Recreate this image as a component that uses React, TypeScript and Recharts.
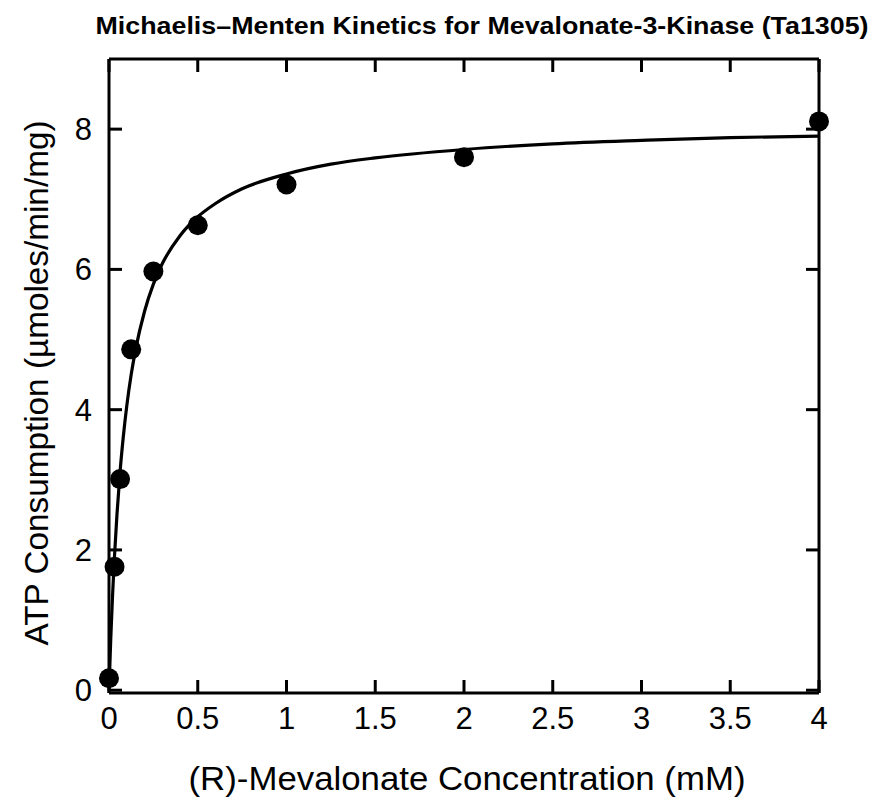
import React from 'react';
import { ComposedChart, Line, Scatter, XAxis, YAxis } from 'recharts';

// measured substrate concentrations (mM) and rates (µmol/min/mg)
const concentration = [0, 0.03125, 0.0625, 0.125, 0.25, 0.5, 1, 2, 4];
const rate = [0.17, 1.76, 3.01, 4.86, 5.97, 6.63, 7.21, 7.6, 8.11];

// fitted Michaelis–Menten curve samples
const fitX = [0, 0.01, 0.02, 0.03, 0.045, 0.0625, 0.08, 0.1, 0.125, 0.15, 0.2, 0.25, 0.3, 0.4, 0.5, 0.6, 0.75, 1, 1.25, 1.5, 2, 2.5, 3, 3.5, 4];
const fitY = [0, 0.74, 1.35, 1.87, 2.51, 3.12, 3.6, 4.05, 4.5, 4.86, 5.4, 5.79, 6.08, 6.48, 6.75, 6.94, 7.15, 7.36, 7.5, 7.59, 7.71, 7.79, 7.84, 7.88, 7.9];

const xTicks = [0, 0.5, 1, 1.5, 2, 2.5, 3, 3.5, 4];
const yTicks = [0, 2, 4, 6, 8];

const X_DOMAIN: [number, number] = [0, 4];
const Y_DOMAIN: [number, number] = [-0.04, 9];

const points = concentration.map((x, i) => ({ x, y: rate[i] }));
const fit = fitX.map((x, i) => ({ x, y: fitY[i] }));

// anchors for the inward tick marks on all four sides of the frame
const frameTicks = [
  ...xTicks.map((x) => ({ x, y: Y_DOMAIN[0], side: 'bottom' })),
  ...xTicks.map((x) => ({ x, y: Y_DOMAIN[1], side: 'top' })),
  ...yTicks.map((y) => ({ x: X_DOMAIN[0], y, side: 'left' })),
  ...yTicks.map((y) => ({ x: X_DOMAIN[1], y, side: 'right' })),
];

const FONT = '"Liberation Sans", Arial, Helvetica, sans-serif';
const W = 869;
const H = 800;
const SW = 3;
const TICK = 13;

const axisLine = { stroke: '#000', strokeWidth: SW };

const BottomLabel = ({ x, y, payload }: any) => (
  <text x={x} y={y + 36} textAnchor="middle" fontFamily={FONT} fontSize={31} fill="#000">{String(payload.value)}</text>
);
const LeftLabel = ({ x, y, payload }: any) => (
  <text x={x - 17} y={y + 11} textAnchor="end" fontFamily={FONT} fontSize={31} fill="#000">{String(payload.value)}</text>
);
const noLabel = () => <g />;

const DIRS: Record<string, [number, number]> = {
  bottom: [0, -TICK],
  top: [0, TICK],
  left: [TICK, 0],
  right: [-TICK, 0],
};

const TickMark = (p: any) => {
  const side = p.payload?.side ?? p.side ?? 'bottom';
  const [dx, dy] = DIRS[side];
  return <line x1={p.cx} y1={p.cy} x2={p.cx + dx} y2={p.cy + dy} stroke="#000" strokeWidth={SW} />;
};

const Dot = (props: any) => <circle cx={props.cx} cy={props.cy} r={10} fill="#000" />;

export default function App() {
  return (
    <div style={{ position: 'relative', width: W, height: H, background: '#fff' }}>
      <ComposedChart width={W} height={H} margin={{ top: 50, right: 57, bottom: 75, left: 41 }}>
        <XAxis xAxisId="b" type="number" dataKey="x" domain={X_DOMAIN} ticks={xTicks} orientation="bottom"
          height={40} tickSize={0} tickMargin={0} axisLine={axisLine} tickLine={false} tick={BottomLabel} interval={0} />
        <XAxis xAxisId="t" type="number" dataKey="x" domain={X_DOMAIN} ticks={xTicks} orientation="top"
          height={1} tickSize={0} axisLine={axisLine} tickLine={false} tick={noLabel} />
        <YAxis yAxisId="l" type="number" dataKey="y" domain={Y_DOMAIN} ticks={yTicks} orientation="left"
          width={60} tickSize={0} tickMargin={0} axisLine={axisLine} tickLine={false} tick={LeftLabel} interval={0} />
        <YAxis yAxisId="r" type="number" dataKey="y" domain={Y_DOMAIN} ticks={yTicks} orientation="right"
          width={1} tickSize={0} axisLine={axisLine} tickLine={false} tick={noLabel} />

        <Scatter name="frame-ticks" xAxisId="b" yAxisId="l" data={frameTicks} dataKey="y" shape={TickMark}
          isAnimationActive={false} />
        <Line name="fit" xAxisId="b" yAxisId="l" data={fit} dataKey="y" type="monotone" stroke="#000" strokeWidth={3.2}
          dot={false} activeDot={false} isAnimationActive={false} />
        <Scatter name="measured" xAxisId="b" yAxisId="l" data={points} dataKey="y" fill="#000" shape={Dot}
          isAnimationActive={false} />
      </ComposedChart>
      <svg width={W} height={H} style={{ position: 'absolute', left: 0, top: 0, pointerEvents: 'none' }}>
        <text x={474} y={26} textAnchor="middle" fontFamily={FONT} fontWeight="bold" fontSize={24}
          textLength={773} lengthAdjust="spacingAndGlyphs">
          Michaelis–Menten Kinetics for Mevalonate-3-Kinase (Ta1305)
        </text>
        <text x={459} y={782} textAnchor="middle" fontFamily={FONT} fontSize={34}
          textLength={557} lengthAdjust="spacingAndGlyphs">
          (R)-Mevalonate Concentration (mM)
        </text>
        <text x={0} y={0} transform="translate(40,375) rotate(-90)" textAnchor="middle" fontFamily={FONT} fontSize={34}
          textLength={525} lengthAdjust="spacingAndGlyphs">
          ATP Consumption (µmoles/min/mg)
        </text>
      </svg>
    </div>
  );
}
